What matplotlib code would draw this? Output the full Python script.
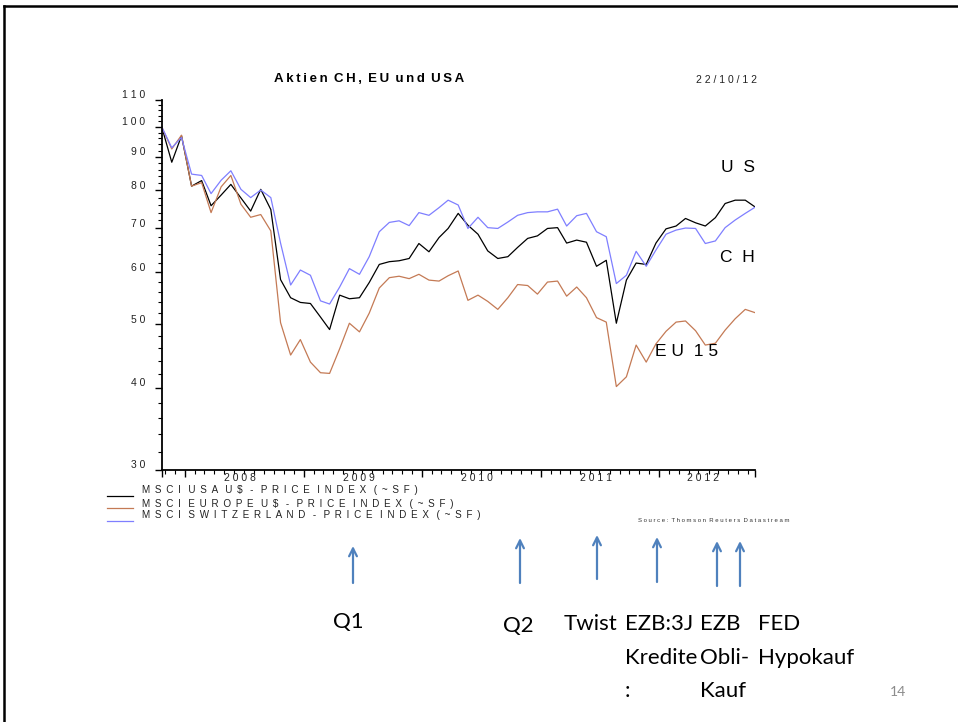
import pandas as pd
import matplotlib
matplotlib.use('Agg')
import matplotlib.pyplot as plt
import matplotlib.ticker as mticker
import matplotlib.dates as mdates
from matplotlib.transforms import ScaledTranslation
from matplotlib.lines import Line2D
from matplotlib.patches import FancyArrowPatch

# Monatswerte ab 22.10.2007, indexiert auf 100
datum = pd.date_range('2007-10-22', periods=61, freq=pd.DateOffset(months=1))

usa = [100, 88.3, 96.9, 81.2, 82.8, 75.8, 78.7, 81.7, 77.9, 74.4, 80.3,
       74.8, 58.5, 54.9, 54.0, 53.8, 51.3, 49.1, 55.4, 54.7, 54.9,
       57.9, 61.7, 62.3, 62.5, 63.0, 66.4, 64.5, 67.8, 70.0, 73.8,
       70.8, 68.6, 64.7, 63.0, 63.4, 65.5, 67.6, 68.2, 70.0, 70.2,
       66.5, 67.2, 66.7, 61.3, 62.6, 50.2, 58.4, 62.0, 61.7, 66.5,
       69.9, 70.6, 72.5, 71.4, 70.6, 72.7, 76.4, 77.3, 77.3, 75.5]

europa = [100, 92.5, 97.1, 81.2, 82.2, 74.0, 81.0, 84.3, 76.2, 72.8, 73.5,
          69.4, 50.3, 44.9, 47.4, 43.8, 42.2, 42.1, 45.9, 50.2, 48.7,
          52.0, 56.8, 58.9, 59.2, 58.7, 59.6, 58.4, 58.2, 59.3, 60.3,
          54.4, 55.4, 54.2, 52.7, 54.9, 57.5, 57.3, 55.6, 58.0, 58.2,
          55.2, 57.0, 54.9, 51.2, 50.4, 40.2, 41.6, 46.5, 43.8, 46.7,
          48.8, 50.4, 50.6, 48.9, 46.5, 46.8, 49.0, 51.0, 52.7, 52.1]

schweiz = [100, 92.9, 96.3, 84.7, 84.3, 79.1, 82.9, 85.7, 80.3, 78.0, 80.1,
           78.0, 66.5, 57.4, 60.5, 59.4, 54.3, 53.7, 57.0, 60.8, 59.6,
           63.4, 69.2, 71.5, 71.9, 70.7, 74.0, 73.3, 75.3, 77.3, 76.0,
           70.0, 72.8, 70.2, 70.0, 71.6, 73.3, 74.0, 74.2, 74.2, 74.9,
           70.6, 73.2, 73.8, 69.2, 68.0, 57.7, 59.4, 64.6, 61.3, 64.9,
           68.6, 69.6, 70.1, 70.0, 66.4, 67.0, 70.2, 72.1, 73.8, 75.4]

legende = ['MSCI USA U$ - PRICE INDEX (~SF)',
           'MSCI EUROPE U$ - PRICE INDEX (~SF)',
           'MSCI SWITZERLAND - PRICE INDEX (~SF)']
y_ticks = [30, 40, 50, 60, 70, 80, 90, 100, 110]
jahre = [2008, 2009, 2010, 2011, 2012]

# Massnahmen (Pfeile unter dem Chart)
massnahmen = [['Q1'], ['Q2'], ['Twist'], ['EZB:3J', 'Kredite', ':'],
              ['EZB', 'Obli-', 'Kauf'], ['FED', 'Hypokauf']]

W, H = 958, 722
schwarz = '#000000'
braun = '#c47a55'
blau = '#7f7fff'
pfeil_farbe = '#4f81bd'
arial = ['Liberation Sans', 'DejaVu Sans']
THIN = '\u2009'


def gesperrt(s, sep=' '):
    # Buchstaben gesperrt wie im Datastream-Ausdruck
    return (sep + ' ').join(sep.join(w) for w in s.split(' '))


def fx(x):
    return x / W


def fy(y):
    return 1 - y / H


fig = plt.figure(figsize=(W / 100, H / 100), dpi=100)
ax = fig.add_axes([fx(161.7), fy(470), (755 - 161.7) / W, (470 - 99.6) / H])

ax.plot(datum, usa, color=schwarz, lw=0.9)
ax.plot(datum, europa, color=braun, lw=0.9)
ax.plot(datum, schweiz, color=blau, lw=0.9)

ax.set_yscale('log')
ax.set_ylim(30, 110)
ax.set_xlim(datum[0], datum[-1])

ax.yaxis.set_major_locator(mticker.FixedLocator(y_ticks))
ax.yaxis.set_major_formatter(mticker.FixedFormatter([gesperrt(str(v)) for v in y_ticks]))
ax.yaxis.set_minor_locator(mticker.FixedLocator([v for v in range(32, 110, 2) if v % 10]))
ax.yaxis.set_minor_formatter(mticker.NullFormatter())

grenzen = [datum[0]] + [pd.Timestamp(f'{j}-01-01') for j in jahre] + [datum[-1]]
ax.xaxis.set_major_locator(mticker.FixedLocator(mdates.date2num(grenzen)))
ax.xaxis.set_major_formatter(mticker.NullFormatter())
ax.xaxis.set_minor_locator(mdates.MonthLocator())
ax.xaxis.set_minor_formatter(mticker.NullFormatter())

ax.tick_params(axis='both', which='major', direction='out', length=5, width=1, colors='black')
ax.tick_params(axis='both', which='minor', direction='out', length=3, width=0.8, colors='black')
ax.tick_params(axis='y', which='major', pad=7, labelsize=7.5)
for lab in ax.get_yticklabels():
    lab.set_fontfamily(arial)
    lab.set_color('#222222')
    lab.set_transform(lab.get_transform() + ScaledTranslation(0, 4 / 72, fig.dpi_scale_trans))

for s in ['top', 'right']:
    ax.spines[s].set_visible(False)
ax.spines['left'].set_linewidth(1.3)
ax.spines['bottom'].set_linewidth(1.3)

# Jahresbeschriftung mittig im sichtbaren Jahresabschnitt
for j in jahre:
    a = max(pd.Timestamp(f'{j}-01-01'), datum[0])
    b = min(pd.Timestamp(f'{j + 1}-01-01'), datum[-1])
    mitte = a + (b - a) / 2
    ax.annotate(gesperrt(str(j)), xy=(mdates.date2num(mitte), 0), xycoords=('data', 'axes fraction'),
                xytext=(-3, -6), textcoords='offset points', ha='center', va='center',
                fontsize=7.5, family=arial, color='#222222')

# Titel und Datum
fig.text(fx(369), fy(79), gesperrt('Aktien CH, EU und USA', THIN), ha='center', va='center',
         fontsize=9.5, fontweight='bold', family=arial)
fig.text(fx(757), fy(80), gesperrt('22/10/12'), ha='right', va='center', fontsize=7.5, family=arial,
         color='#222222')

# Serienbeschriftung rechts
fig.text(fx(755), fy(168), gesperrt('US', '  '), ha='right', va='center', fontsize=12.5, family=arial)
fig.text(fx(755), fy(257), gesperrt('CH', '  '), ha='right', va='center', fontsize=12.5, family=arial)
fig.text(fx(655), fy(351), gesperrt('EU 15'), ha='left', va='center', fontsize=12.5, family=arial)

# Legende
legende_y = [490.3, 504.2, 515.3]
linien_y = [495.7, 507.7, 521]
for txt, ty, ly, c in zip(legende, legende_y, linien_y, [schwarz, braun, blau]):
    fig.add_artist(Line2D([fx(107), fx(133)], [fy(ly), fy(ly)], color=c, lw=0.9))
    fig.text(fx(142), fy(ty), gesperrt(txt, ' ' + THIN), ha='left', va='center', fontsize=7.1,
             family=arial, color='#222222')

fig.text(fx(790), fy(520), gesperrt('Source: Thomson Reuters Datastream'), ha='right', va='center',
         fontsize=4.3, family=arial, color='#333333')

# Pfeile und Beschriftungen
pfeil_x = [353, 520, 597, 657, 717, 740]
pfeil_oben = [546, 538, 535, 537, 541, 541]
pfeil_unten = [583, 583, 579, 582, 586, 586]
for x, yo, yu in zip(pfeil_x, pfeil_oben, pfeil_unten):
    fig.add_artist(FancyArrowPatch(
        (fx(x), fy(yu)), (fx(x), fy(yo)), transform=fig.transFigure,
        arrowstyle='->', mutation_scale=14, color=pfeil_farbe, lw=1.6,
        shrinkA=0, shrinkB=0))

text_x = [333, 503, 564, 625, 700, 758]
text_y = [622, 626, 624, 624, 624, 624]
for zeilen, x, y in zip(massnahmen, text_x, text_y):
    for i, z in enumerate(zeilen):
        fig.text(fx(x), fy(y + i * 33.5), z, ha='left', va='center', fontsize=16, family='Lato',
                 color='black')

fig.text(fx(898), fy(692), '14', ha='center', va='center', fontsize=10, family='Lato', color='#8c8c8c')

# Folienrahmen
fig.add_artist(Line2D([fx(4), fx(4)], [fy(6), 0], color='black', lw=1.8))
fig.add_artist(Line2D([fx(4), 1], [fy(6), fy(6)], color='black', lw=1.8))

fig.savefig('out.png', dpi=100)
